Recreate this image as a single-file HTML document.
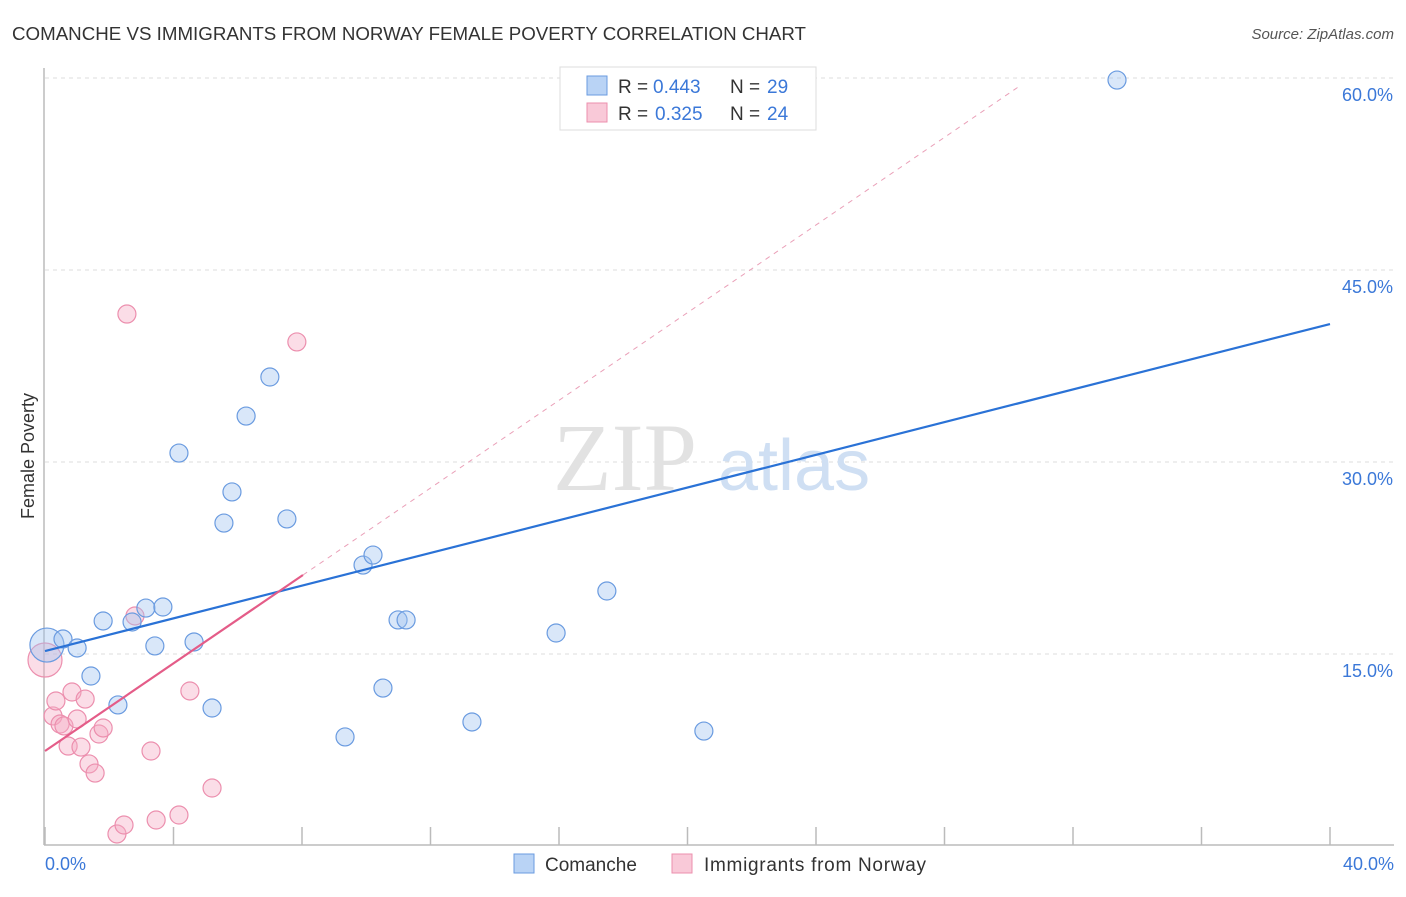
<!DOCTYPE html>
<html><head><meta charset="utf-8"><style>
body{margin:0;background:#fff;font-family:"Liberation Sans",sans-serif}
svg text{font-family:"Liberation Sans",sans-serif}
</style></head><body>
<svg id="chart" width="1406" height="892" xmlns="http://www.w3.org/2000/svg">
<text x="12" y="40" font-size="18" fill="#333" textLength="794" lengthAdjust="spacingAndGlyphs">COMANCHE VS IMMIGRANTS FROM NORWAY FEMALE POVERTY CORRELATION CHART</text>
<text x="1394" y="39" font-size="15" fill="#555" font-style="italic" text-anchor="end">Source: ZipAtlas.com</text>
<text x="34" y="456" font-size="18" fill="#333" text-anchor="middle" transform="rotate(-90 34 456)">Female Poverty</text>
<g id="grid"></g>
<g id="yticks"></g>
<text x="553" y="490" font-size="96" fill="#e2e2e2" style="font-family:'Liberation Serif',serif">ZIP</text>
<text x="718" y="490" font-size="72" fill="#cfdff3">atlas</text>
<line x1="44" y1="68" x2="44" y2="845" stroke="#bbb" stroke-width="1.5"/>
<line x1="44" y1="845" x2="1394" y2="845" stroke="#bbb" stroke-width="1.5"/>
<g id="xticks"></g>
<g id="pts"></g>
<g id="lines"></g>
<text x="45" y="870" font-size="18" fill="#3b78d8">0.0%</text>
<text x="1394" y="870" font-size="18" fill="#3b78d8" text-anchor="end">40.0%</text>
<g>
<rect x="560" y="67" width="256" height="63" fill="#fff" stroke="#ddd"/>
<rect x="587" y="76" width="20" height="19" fill="#b9d3f5" stroke="#6a9be0"/>
<rect x="587" y="103" width="20" height="19" fill="#f9c9d8" stroke="#ec8fae"/>
<text x="618" y="93" font-size="19" fill="#333">R =</text>
<text x="653" y="93" font-size="19" fill="#3b78d8">0.443</text>
<text x="730" y="93" font-size="19" fill="#333">N =</text>
<text x="767" y="93" font-size="19" fill="#3b78d8">29</text>
<text x="618" y="120" font-size="19" fill="#333">R =</text>
<text x="655" y="120" font-size="19" fill="#3b78d8">0.325</text>
<text x="730" y="120" font-size="19" fill="#333">N =</text>
<text x="767" y="120" font-size="19" fill="#3b78d8">24</text>
</g>
<g>
<rect x="514" y="854" width="20" height="19" fill="#b9d3f5" stroke="#6a9be0"/>
<text x="545" y="871" font-size="19" fill="#333">Comanche</text>
<rect x="672" y="854" width="20" height="19" fill="#f9c9d8" stroke="#ec8fae"/>
<text x="704" y="871" font-size="19" fill="#333" textLength="222">Immigrants from Norway</text>
</g>
</svg>
<script>
const yTicks=[15,30,45,60];
const yTickLabels=["15.0%","30.0%","45.0%","60.0%"];
const xTickVals=[0,4,8,12,16,20,24,28,32,36,40];
const blueX=[0.06,0.56,1.0,1.43,1.81,2.27,2.71,3.14,3.42,3.67,4.17,4.64,5.2,5.57,5.82,6.26,7.0,7.53,9.34,9.9,10.21,10.52,10.99,11.24,13.29,15.91,17.49,20.51,33.37];
const blueY=[15.7,16.17,15.47,13.28,17.58,11.02,17.5,18.59,15.63,18.67,30.7,15.94,10.78,25.23,27.66,33.59,36.64,25.55,8.52,21.95,22.73,12.34,17.66,17.66,9.69,16.64,19.92,8.98,59.84];
const blueR=[17,9,9,9,9,9,9,9,9,9,9,9,9,9,9,9,9,9,9,9,9,9,9,9,9,9,9,9,9];
const pinkX=[0,0.25,0.34,0.47,0.59,0.72,0.84,1.0,1.12,1.25,1.37,1.56,1.68,1.81,2.24,2.46,2.55,2.8,3.3,3.46,4.17,4.51,5.2,7.84];
const pinkY=[14.53,10.16,11.33,9.53,9.38,7.81,12.03,9.92,7.73,11.48,6.41,5.7,8.75,9.22,0.94,1.64,41.56,17.97,7.42,2.03,2.42,12.11,4.53,39.38];
const pinkR=[17,9,9,9,9,9,9,9,9,9,9,9,9,9,9,9,9,9,9,9,9,9,9,9];
const blueLine=[0,15.23,40,40.78];
const pinkLine=[0,7.42,8.03,21.17];
const pinkDashEnd=30.3;
const X=v=>45+v*32.125, Y=v=>654-(v-15)*12.8;
const NS="http://www.w3.org/2000/svg";
function mk(t,a,p){const e=document.createElementNS(NS,t);for(const k in a)e.setAttribute(k,a[k]);document.getElementById(p).appendChild(e);return e;}
yTicks.forEach((v,i)=>{
 const l=mk('line',{x1:45,x2:1394,y1:Y(v),y2:Y(v),stroke:'#ddd','stroke-dasharray':'4,4'},'grid');
 
 
 const t=mk('text',{x:1393,y:Y(v)+23,'font-size':18,fill:'#3b78d8','text-anchor':'end'},'yticks');
 t.textContent=yTickLabels[i];
 
 
});
xTickVals.forEach(v=>{
 const l=mk('line',{x1:X(v),x2:X(v),y1:827,y2:845,stroke:'#bbb','stroke-width':1.5},'xticks');
 
 
});
pinkX.forEach((x,i)=>{
 const c=mk('circle',{cx:X(x),cy:Y(pinkY[i]),r:pinkR[i],fill:'rgba(246,170,195,0.4)',stroke:'#ec8fae','stroke-width':1.2},'pts');
 
 
});
blueX.forEach((x,i)=>{
 const c=mk('circle',{cx:X(x),cy:Y(blueY[i]),r:blueR[i],fill:'rgba(160,196,240,0.4)',stroke:'#6a9be0','stroke-width':1.2},'pts');
 
 
});
const slope=(pinkLine[3]-pinkLine[1])/(pinkLine[2]-pinkLine[0]);
const d=mk('line',{x1:X(pinkLine[2]),y1:Y(pinkLine[3]),x2:X(pinkDashEnd),y2:Y(pinkLine[1]+slope*pinkDashEnd),stroke:'#eaa0b8','stroke-dasharray':'5,5','stroke-width':1},'lines');


const b=mk('line',{x1:X(blueLine[0]),y1:Y(blueLine[1]),x2:X(blueLine[2]),y2:Y(blueLine[3]),stroke:'#2a72d6','stroke-width':2.2},'lines');


const p=mk('line',{x1:X(pinkLine[0]),y1:Y(pinkLine[1]),x2:X(pinkLine[2]),y2:Y(pinkLine[3]),stroke:'#e45c88','stroke-width':2.2},'lines');


</script>
</body></html>
